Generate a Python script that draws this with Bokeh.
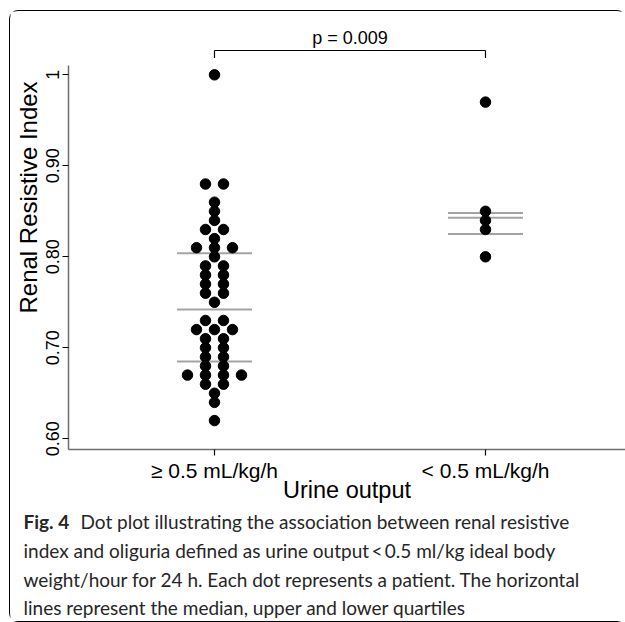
from bokeh.plotting import figure
from bokeh.layouts import column
from bokeh.models import FixedTicker, Title, Range1d
from bokeh.core.properties import value
from bokeh.embed import file_html
from bokeh.resources import INLINE
from collections import Counter

# ---- data ----
categories = ["≥ 0.5 mL/kg/h", "< 0.5 mL/kg/h"]
group1_rri = [1.00, 0.88, 0.88, 0.86, 0.85, 0.84, 0.83, 0.83, 0.82,
              0.81, 0.81, 0.81, 0.80, 0.79, 0.79, 0.78, 0.78, 0.77, 0.77,
              0.76, 0.76, 0.75, 0.73, 0.73, 0.72, 0.72, 0.72, 0.71, 0.71,
              0.70, 0.70, 0.69, 0.69, 0.68, 0.68, 0.67, 0.67, 0.67, 0.67,
              0.66, 0.66, 0.65, 0.64, 0.62]
group2_rri = [0.97, 0.85, 0.84, 0.83, 0.80]
group1_quartiles = [0.685, 0.742, 0.804]   # lower, median, upper
group2_quartiles = [0.825, 0.843, 0.848]
y_ticks = [0.6, 0.7, 0.8, 0.9, 1.0]
y_tick_labels = ["0.60", "0.70", "0.80", "0.90", "1"]
p_value_text = "p = 0.009"
caption_bold = "Fig. 4"
caption_lines = [
    "Dot plot illustrating the association between renal resistive",
    "index and oliguria defined as urine output\u2009<\u20090.5 ml/kg ideal body",
    "weight/hour for 24 h. Each dot represents a patient. The horizontal",
    "lines represent the median, upper and lower quartiles",
]

# ---- layout (page pixels) ----
OX, OY = 10, 11                        # inside of the rounded border
W, H = 625, 622
CH_BOTTOM = 510                        # page y where the chart figure ends
FL, FR, FT, FB = 68, 625, 20, 449      # frame edges (page px)
X0, X1 = 0.4613, 2.5166
Y0, Y1 = 0.5882, 1.0597
AX_TOP = 1.0102
xs_per_px = (X1 - X0) / (FR - FL)
ys_per_px = (Y1 - Y0) / (FB - FT)


def px_y(py):
    return Y0 + (FB - py) * ys_per_px


p = figure(width=W - OX, height=CH_BOTTOM - OY, output_backend="svg",
           toolbar_location=None, x_range=(X0, X1), y_range=(Y0, Y1),
           min_border_left=FL - OX, min_border_right=W - FR,
           min_border_top=FT - OY, min_border_bottom=CH_BOTTOM - FB)
p.outline_line_color = None
p.grid.visible = False
p.frame_align = False

# dots, stacked horizontally like a dot plot
DOT_STEP = 18 * xs_per_px


def dot_positions(center, vals):
    counts = Counter(vals)
    seen = Counter()
    xs, ys = [], []
    for v in vals:
        n = counts[v]
        k = seen[v]
        seen[v] += 1
        xs.append(center + (k - (n - 1) / 2) * DOT_STEP)
        ys.append(v)
    return xs, ys


gx, gy = [], []
for i, vals in enumerate([group1_rri, group2_rri]):
    xs, ys = dot_positions(i + 1, vals)
    gx += xs
    gy += ys

# quartile lines
HALF = 37.5 * xs_per_px
qx0, qx1, qy = [], [], []
for i, qs in enumerate([group1_quartiles, group2_quartiles]):
    for q in qs:
        qx0.append(i + 1 - HALF)
        qx1.append(i + 1 + HALF)
        qy.append(q)
p.segment(x0=qx0, x1=qx1, y0=qy, y1=qy, line_color="#a3a3a3", line_width=2)
p.scatter(x=gx, y=gy, size=10.5, marker="circle", fill_color="black", line_color="black")

# significance bracket
yb = px_y(50)
ya = px_y(57.5)
p.segment(x0=[1, 1, 2], x1=[2, 1, 2], y0=[yb, yb, yb], y1=[yb, ya, ya],
          line_color="black", line_width=1.2)
p.text(x=[1.5], y=[px_y(37)], text=[p_value_text], text_align="center",
       text_baseline="middle", text_font=value("Liberation Sans"),
       text_font_size="18px", text_color="black")

# axes
xa = p.xaxis[0]
xa.ticker = FixedTicker(ticks=[1, 2])
xa.major_label_overrides = {1: categories[0], 2: categories[1]}
xa.axis_label = "Urine output"
xa.major_label_text_font_size = "21px"
xa.axis_label_standoff = -8
yax = p.yaxis[0]
yax.ticker = FixedTicker(ticks=y_ticks)
yax.major_label_overrides = {t: l for t, l in zip(y_ticks, y_tick_labels)}
yax.major_label_orientation = "vertical"
yax.major_label_text_font_size = "18px"
yax.bounds = (Y0, AX_TOP)
for ax in (xa, yax):
    ax.axis_line_color = "#6e6e6e"
    ax.axis_line_width = 1.5
    ax.major_tick_line_color = "black"
    ax.major_tick_line_width = 1.2
    ax.major_tick_in = 0
    ax.major_tick_out = 6
    ax.minor_tick_line_color = None
    ax.major_label_text_font = "Liberation Sans"
    ax.major_label_text_color = "black"
    ax.axis_label_text_font = "Liberation Sans"
    ax.axis_label_text_font_size = "23.5px"
    ax.axis_label_text_font_style = "normal"
    ax.axis_label_text_color = "black"
    ax.major_label_standoff = 3

# y axis title, placed where the reference has it (text starts 313 px down)
p.add_layout(Title(text="Renal Resistive Index", align="left",
                   offset=FB - 313, text_font="Liberation Sans",
                   text_font_size="24px", text_font_style="normal",
                   text_color="black", standoff=4), "left")

# caption panel
CAP_H = 621 - CH_BOTTOM
cap = figure(width=W - OX, height=CAP_H, output_backend="svg", toolbar_location=None,
             x_range=Range1d(OX, W), y_range=Range1d(CH_BOTTOM + CAP_H, CH_BOTTOM),
             x_axis_type=None, y_axis_type=None,
             min_border_left=0, min_border_right=0, min_border_top=0, min_border_bottom=0)
cap.outline_line_color = None
cap.grid.visible = False
cap.frame_align = False
cap_font = value("Lato")
cap_size = "19px"
cap_color = "#262626"
line_y = [521, 550, 579, 607]
cap.text(x=[23], y=[line_y[0]], text=[caption_bold], text_font=cap_font,
         text_font_size=cap_size, text_font_style="bold", text_color=cap_color,
         text_baseline="middle", text_align="left")
cap.text(x=[80] + [23] * 3, y=line_y, text=caption_lines, text_font=cap_font,
         text_font_size=cap_size, text_color=cap_color,
         text_baseline="middle", text_align="left")

layout = column(p, cap, spacing=0, margin=(10, 0, 0, 9),
                styles={"border": "1.2px solid black", "border-radius": "9px"})

open("out.html", "w").write(file_html(layout, INLINE))
